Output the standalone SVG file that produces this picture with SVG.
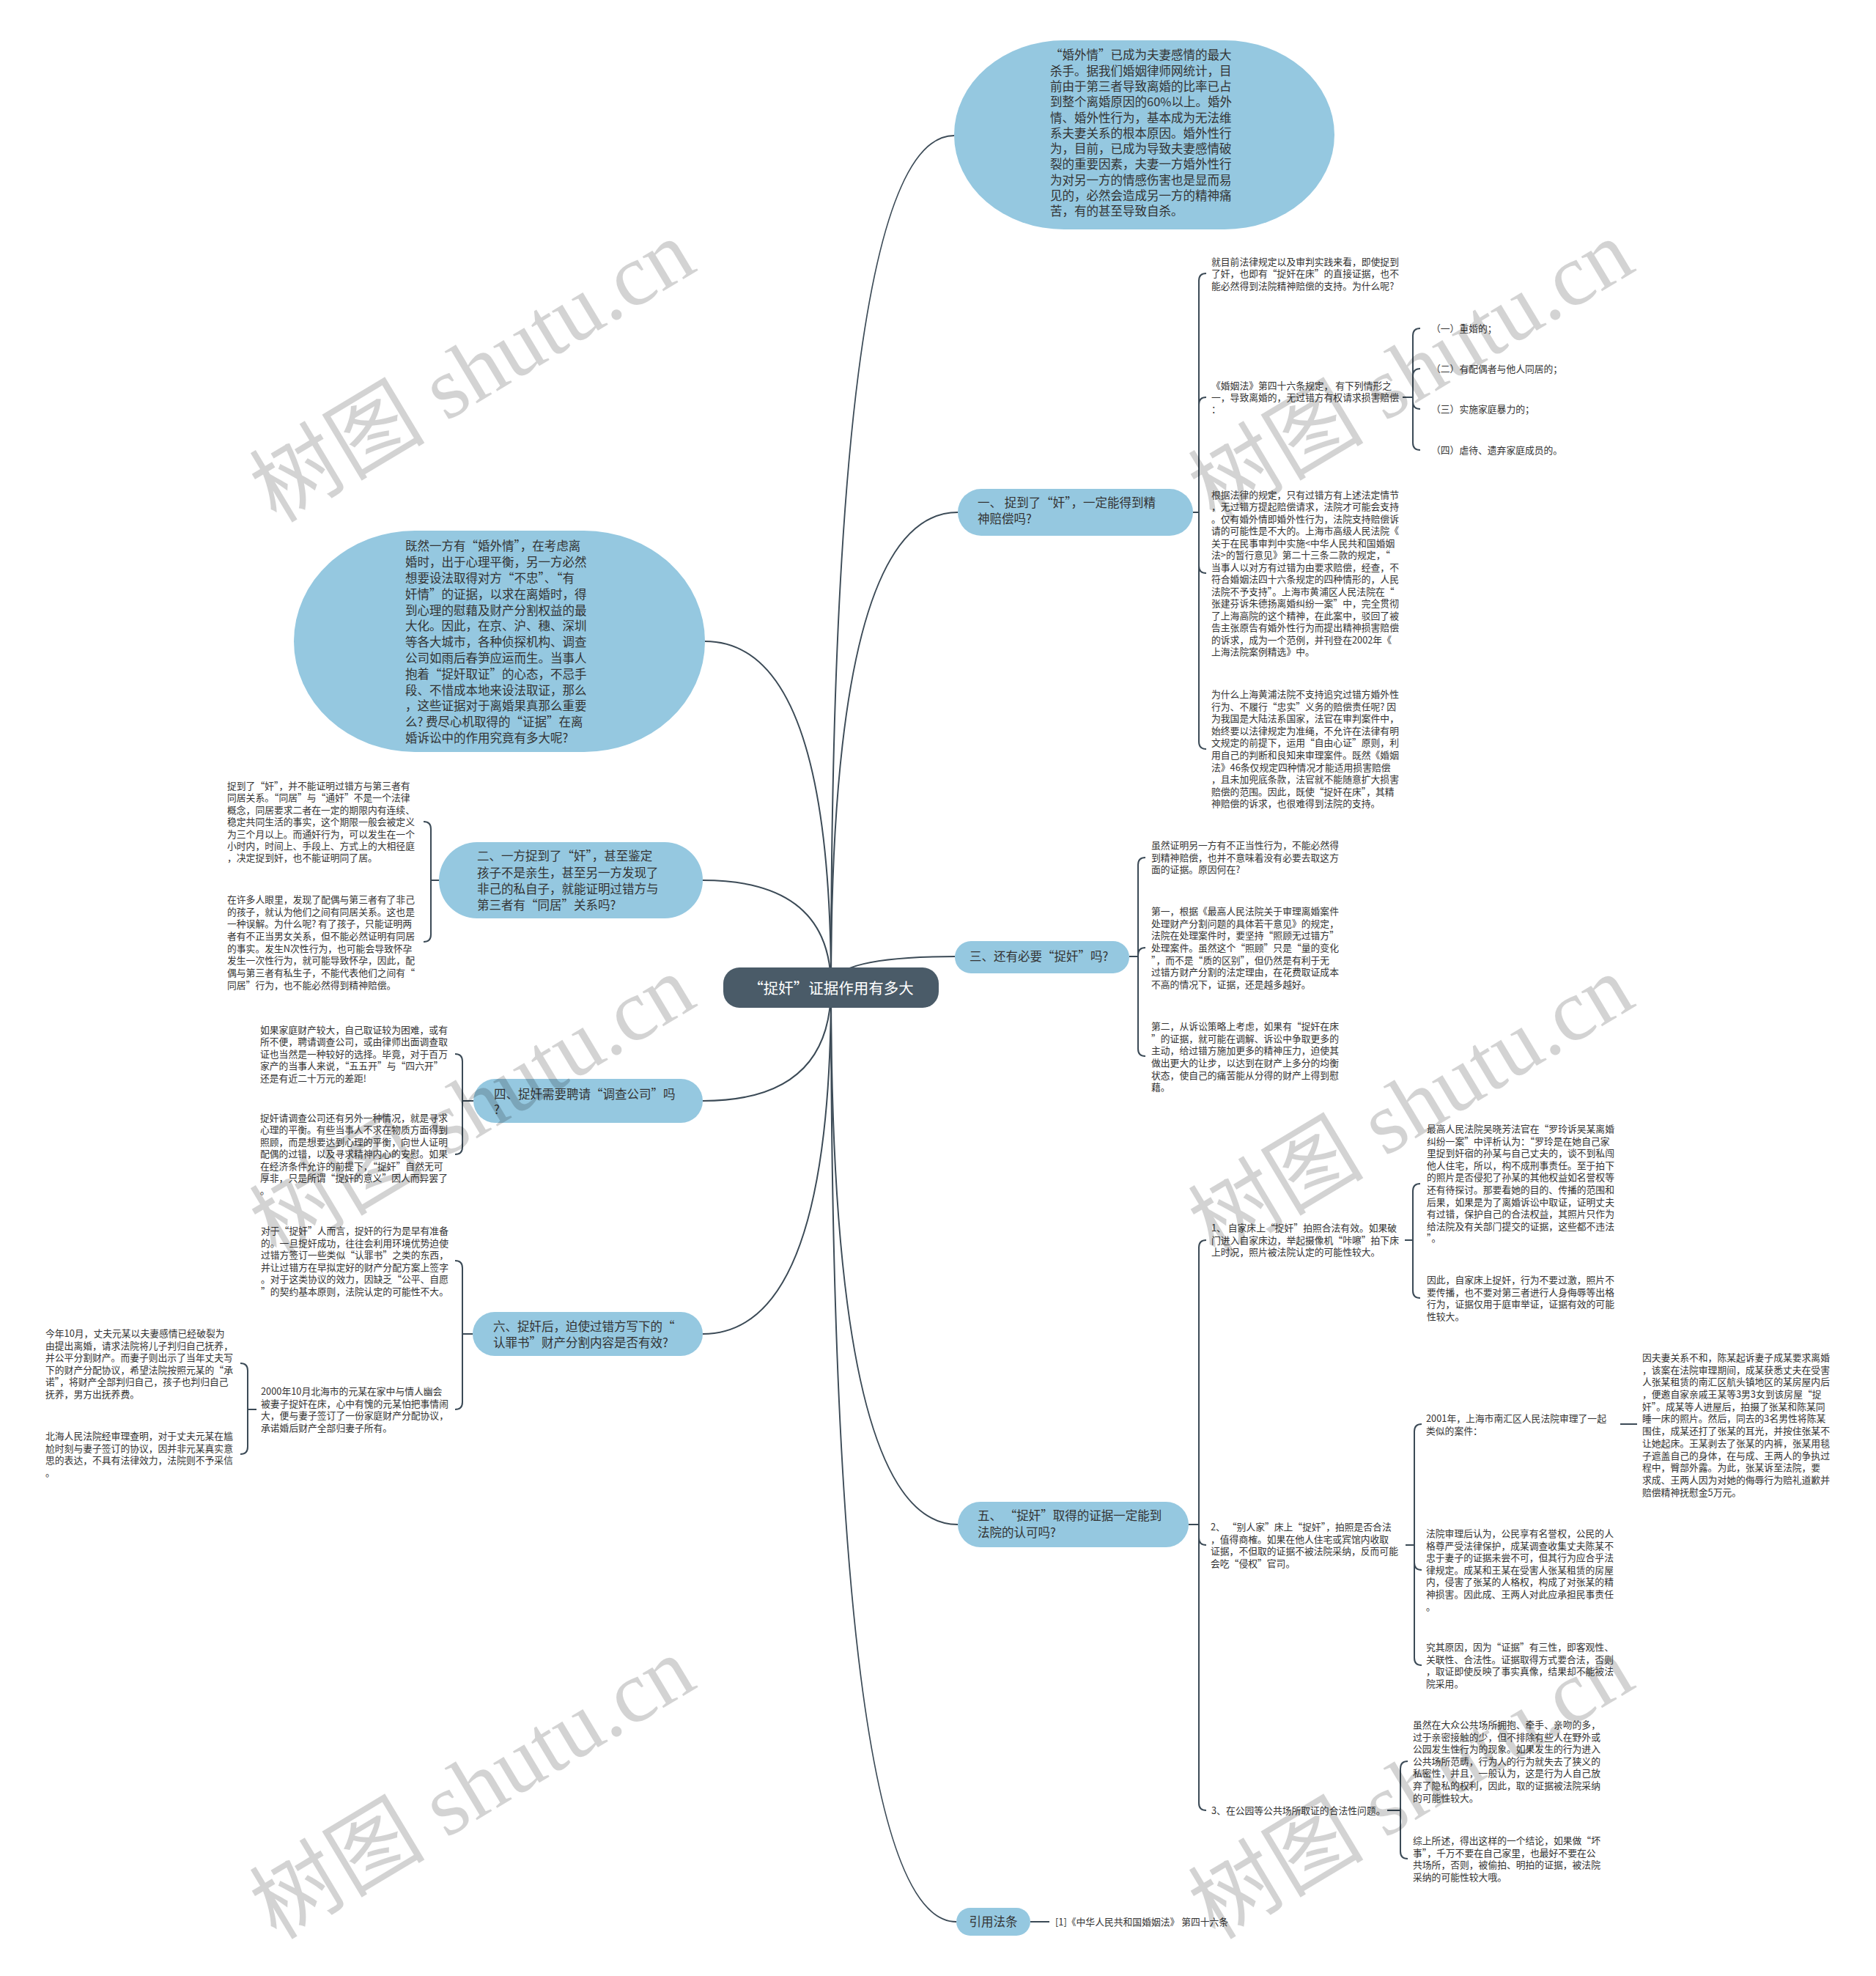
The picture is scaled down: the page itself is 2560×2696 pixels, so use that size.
<svg xmlns="http://www.w3.org/2000/svg" width="2560" height="2696" viewBox="0 0 2560 2696">
<style>
.c{fill:none;stroke:#3b4a56;stroke-width:2}
.n{fill:#95c8e0}
.t{font-family:"Noto Sans CJK SC","Noto Sans",sans-serif;fill:#333;font-size:12.8px}
.l{font-size:16.5px}
.w{font-family:"Liberation Serif","Noto Sans CJK SC",serif;font-size:120px;fill:#000;opacity:0.17}
</style>
<rect width="2560" height="2696" fill="#fff"/>
<g id="connectors">
<path class="c" d="M1134 1347Q1134 185 1302 185"/>
<path class="c" d="M1134 1347Q1134 699 1307 699"/>
<path class="c" d="M1134 1347Q1134 1305 1303 1305"/>
<path class="c" d="M1134 1347Q1134 2080 1307 2080"/>
<path class="c" d="M1134 1347Q1134 2622 1305 2622"/>
<path class="c" d="M1134 1347Q1134 875 962 875"/>
<path class="c" d="M1134 1347Q1134 1201 959 1201"/>
<path class="c" d="M1134 1347Q1134 1502 959 1502"/>
<path class="c" d="M1134 1347Q1134 1820 959 1820"/>
<path class="c" d="M1628 699H1636M1636 699V383Q1636 373 1646 373M1636 699V552Q1636 542 1646 542M1636 699V772Q1636 782 1646 782M1636 699V1012Q1636 1022 1646 1022"/>
<path class="c" d="M1914 542H1928M1928 542V458Q1928 448 1938 448M1928 542V513Q1928 503 1938 503M1928 542V548Q1928 558 1938 558M1928 542V604Q1928 614 1938 614"/>
<path class="c" d="M1541 1305H1553M1553 1305V1180Q1553 1170 1563 1170M1553 1305V1303Q1553 1293 1563 1293M1553 1305V1431Q1553 1441 1563 1441"/>
<path class="c" d="M1622 2080H1636M1636 2080V1702Q1636 1692 1646 1692M1636 2080V2098Q1636 2108 1646 2108M1636 2080V2460Q1636 2470 1646 2470"/>
<path class="c" d="M1917 1692H1928M1928 1692V1625Q1928 1615 1938 1615M1928 1692V1761Q1928 1771 1938 1771"/>
<path class="c" d="M1918 2108H1930M1930 2108V1953Q1930 1943 1940 1943M1930 2108V2132Q1930 2142 1940 2142M1930 2108V2262Q1930 2272 1940 2272"/>
<path class="c" d="M2211 1943H2234"/>
<path class="c" d="M1893 2470H1911M1911 2470V2413Q1911 2403 1921 2403M1911 2470V2526Q1911 2536 1921 2536"/>
<path class="c" d="M1406 2622H1432"/>
<path class="c" d="M599 1201H588M588 1201V1131Q588 1121 578 1121M588 1201V1275Q588 1285 578 1285"/>
<path class="c" d="M646 1502H631M631 1502V1448Q631 1438 621 1438M631 1502V1565Q631 1575 621 1575"/>
<path class="c" d="M645 1820H631M631 1820V1730Q631 1720 621 1720M631 1820V1913Q631 1923 621 1923"/>
<path class="c" d="M350 1923H338M338 1923V1870Q338 1860 328 1860M338 1923V1974Q338 1984 328 1984"/>
</g>
<g id="center">
<rect x="987" y="1320" width="294" height="55" rx="22" fill="#4a5b68"/>
<text x="1134" y="1356" text-anchor="middle" font-family="Noto Sans CJK SC,sans-serif" font-size="20.5" fill="#fff">“捉奸”证据作用有多大</text>
</g>
<g id="intro-top">
<rect class="n" x="1302" y="55" width="519" height="258" rx="150" ry="129"/>
<text class="t l" x="1433" y="81.3"><tspan x="1433">“婚外情”已成为夫妻感情的最大</tspan><tspan x="1433" dy="21.3">杀手。据我们婚姻律师网统计，目</tspan><tspan x="1433" dy="21.3">前由于第三者导致离婚的比率已占</tspan><tspan x="1433" dy="21.3">到整个离婚原因的60%以上。婚外</tspan><tspan x="1433" dy="21.3">情、婚外性行为，基本成为无法维</tspan><tspan x="1433" dy="21.3">系夫妻关系的根本原因。婚外性行</tspan><tspan x="1433" dy="21.3">为，目前，已成为导致夫妻感情破</tspan><tspan x="1433" dy="21.3">裂的重要因素，夫妻一方婚外性行</tspan><tspan x="1433" dy="21.3">为对另一方的情感伤害也是显而易</tspan><tspan x="1433" dy="21.3">见的，必然会造成另一方的精神痛</tspan><tspan x="1433" dy="21.3">苦，有的甚至导致自杀。</tspan></text>
</g>
<g id="intro-left">
<rect class="n" x="401" y="724" width="561" height="302" rx="165" ry="151"/>
<text class="t l" x="553" y="751.3"><tspan x="553">既然一方有“婚外情”，在考虑离</tspan><tspan x="553" dy="21.8">婚时，出于心理平衡，另一方必然</tspan><tspan x="553" dy="21.8">想要设法取得对方“不忠”、“有</tspan><tspan x="553" dy="21.8">奸情”的证据，以求在离婚时，得</tspan><tspan x="553" dy="21.8">到心理的慰藉及财产分割权益的最</tspan><tspan x="553" dy="21.8">大化。因此，在京、沪、穗、深圳</tspan><tspan x="553" dy="21.8">等各大城市，各种侦探机构、调查</tspan><tspan x="553" dy="21.8">公司如雨后春笋应运而生。当事人</tspan><tspan x="553" dy="21.8">抱着“捉奸取证”的心态，不忌手</tspan><tspan x="553" dy="21.8">段、不惜成本地来设法取证，那么</tspan><tspan x="553" dy="21.8">，这些证据对于离婚果真那么重要</tspan><tspan x="553" dy="21.8">么? 费尽心机取得的“证据”在离</tspan><tspan x="553" dy="21.8">婚诉讼中的作用究竟有多大呢?</tspan></text>
</g>
<g id="branch1">
<rect class="n" x="1307" y="667" width="321" height="64" rx="32"/>
<text class="t l" x="1334" y="692"><tspan x="1334">一、 捉到了“奸”，一定能得到精</tspan><tspan x="1334" dy="22">神赔偿吗?</tspan></text>
<text class="t" x="1653" y="361.9"><tspan x="1653">就目前法律规定以及审判实践来看，即使捉到</tspan><tspan x="1653" dy="16.5">了奸，也即有“捉奸在床”的直接证据，也不</tspan><tspan x="1653" dy="16.5">能必然得到法院精神赔偿的支持。为什么呢?</tspan></text>
<text class="t" x="1653" y="530.9"><tspan x="1653">《婚姻法》第四十六条规定， 有下列情形之</tspan><tspan x="1653" dy="16">一，导致离婚的，无过错方有权请求损害赔偿</tspan><tspan x="1653" dy="16">：</tspan></text>
<text class="t" x="1953" y="452.9">（一）重婚的；</text>
<text class="t" x="1953" y="507.9">（二）有配偶者与他人同居的；</text>
<text class="t" x="1953" y="562.9">（三）实施家庭暴力的；</text>
<text class="t" x="1953" y="618.9">（四）虐待、遗弃家庭成员的。</text>
<text class="t" x="1653" y="679.9"><tspan x="1653">根据法律的规定，只有过错方有上述法定情节</tspan><tspan x="1653" dy="16.5">，无过错方提起赔偿请求，法院才可能会支持</tspan><tspan x="1653" dy="16.5">。仅有婚外情即婚外性行为，法院支持赔偿诉</tspan><tspan x="1653" dy="16.5">请的可能性是不大的。上海市高级人民法院《</tspan><tspan x="1653" dy="16.5">关于在民事审判中实施&lt;中华人民共和国婚姻</tspan><tspan x="1653" dy="16.5">法&gt;的暂行意见》第二十三条二款的规定，“</tspan><tspan x="1653" dy="16.5">当事人以对方有过错为由要求赔偿，经查，不</tspan><tspan x="1653" dy="16.5">符合婚姻法四十六条规定的四种情形的，人民</tspan><tspan x="1653" dy="16.5">法院不予支持”。上海市黄浦区人民法院在“</tspan><tspan x="1653" dy="16.5">张建芬诉朱德扬离婚纠纷一案”中，完全贯彻</tspan><tspan x="1653" dy="16.5">了上海高院的这个精神，在此案中，驳回了被</tspan><tspan x="1653" dy="16.5">告主张原告有婚外性行为而提出精神损害赔偿</tspan><tspan x="1653" dy="16.5">的诉求，成为一个范例，并刊登在2002年《</tspan><tspan x="1653" dy="16.5">上海法院案例精选》中。</tspan></text>
<text class="t" x="1653" y="951.9"><tspan x="1653">为什么上海黄浦法院不支持追究过错方婚外性</tspan><tspan x="1653" dy="16.6">行为、不履行“忠实”义务的赔偿责任呢? 因</tspan><tspan x="1653" dy="16.6">为我国是大陆法系国家，法官在审判案件中，</tspan><tspan x="1653" dy="16.6">始终要以法律规定为准绳，不允许在法律有明</tspan><tspan x="1653" dy="16.6">文规定的前提下，运用“自由心证”原则，利</tspan><tspan x="1653" dy="16.6">用自己的判断和良知来审理案件。既然《婚姻</tspan><tspan x="1653" dy="16.6">法》46条仅规定四种情况才能适用损害赔偿</tspan><tspan x="1653" dy="16.6">，且未加兜底条款，法官就不能随意扩大损害</tspan><tspan x="1653" dy="16.6">赔偿的范围。因此，既使“捉奸在床”，其精</tspan><tspan x="1653" dy="16.6">神赔偿的诉求，也很难得到法院的支持。</tspan></text>
</g>
<g id="branch3">
<rect class="n" x="1303" y="1284" width="238" height="44" rx="22"/>
<text class="t l" x="1323" y="1311">三、还有必要“捉奸”吗?</text>
<text class="t" x="1571" y="1157.9"><tspan x="1571">虽然证明另一方有不正当性行为，不能必然得</tspan><tspan x="1571" dy="16.7">到精神赔偿，也并不意味着没有必要去取这方</tspan><tspan x="1571" dy="16.7">面的证据。原因何在?</tspan></text>
<text class="t" x="1571" y="1247.9"><tspan x="1571">第一，根据《最高人民法院关于审理离婚案件</tspan><tspan x="1571" dy="16.7">处理财产分割问题的具体若干意见》的规定，</tspan><tspan x="1571" dy="16.7">法院在处理案件时，要坚持“照顾无过错方”</tspan><tspan x="1571" dy="16.7">处理案件。虽然这个“照顾”只是“量的变化</tspan><tspan x="1571" dy="16.7">”，而不是“质的区别”，但仍然是有利于无</tspan><tspan x="1571" dy="16.7">过错方财产分割的法定理由，在花费取证成本</tspan><tspan x="1571" dy="16.7">不高的情况下，证据，还是越多越好。</tspan></text>
<text class="t" x="1571" y="1404.9"><tspan x="1571">第二，从诉讼策略上考虑，如果有“捉奸在床</tspan><tspan x="1571" dy="16.7">”的证据，就可能在调解、诉讼中争取更多的</tspan><tspan x="1571" dy="16.7">主动，给过错方施加更多的精神压力，迫使其</tspan><tspan x="1571" dy="16.7">做出更大的让步，以达到在财产上多分的均衡</tspan><tspan x="1571" dy="16.7">状态，使自己的痛苦能从分得的财产上得到慰</tspan><tspan x="1571" dy="16.7">藉。</tspan></text>
</g>
<g id="branch5">
<rect class="n" x="1307" y="2049" width="315" height="62" rx="31"/>
<text class="t l" x="1334" y="2074"><tspan x="1334">五、 “捉奸”取得的证据一定能到</tspan><tspan x="1334" dy="23">法院的认可吗?</tspan></text>
<text class="t" x="1653" y="1679.9"><tspan x="1653">1、 自家床上“捉奸”拍照合法有效。如果破</tspan><tspan x="1653" dy="16.6">门进入自家床边，举起摄像机“咔嚓”拍下床</tspan><tspan x="1653" dy="16.6">上时况，照片被法院认定的可能性较大。</tspan></text>
<text class="t" x="1947" y="1544.9"><tspan x="1947">最高人民法院吴晓芳法官在“罗玲诉吴某离婚</tspan><tspan x="1947" dy="16.6">纠纷一案”中评析认为：“罗玲是在她自己家</tspan><tspan x="1947" dy="16.6">里捉到奸宿的孙某与自己丈夫的，谈不到私闯</tspan><tspan x="1947" dy="16.6">他人住宅，所以，构不成刑事责任。至于拍下</tspan><tspan x="1947" dy="16.6">的照片是否侵犯了孙某的其他权益如名誉权等</tspan><tspan x="1947" dy="16.6">还有待探讨。那要看她的目的、传播的范围和</tspan><tspan x="1947" dy="16.6">后果，如果是为了离婚诉讼中取证，证明丈夫</tspan><tspan x="1947" dy="16.6">有过错，保护自己的合法权益，其照片只作为</tspan><tspan x="1947" dy="16.6">给法院及有关部门提交的证据，这些都不违法</tspan><tspan x="1947" dy="16.6">”。</tspan></text>
<text class="t" x="1947" y="1750.9"><tspan x="1947">因此，自家床上捉奸，行为不要过激，照片不</tspan><tspan x="1947" dy="16.6">要传播，也不要对第三者进行人身侮辱等出格</tspan><tspan x="1947" dy="16.6">行为，证据仅用于庭审举证，证据有效的可能</tspan><tspan x="1947" dy="16.6">性较大。</tspan></text>
<text class="t" x="1652" y="2087.9"><tspan x="1652">2、 “别人家”床上“捉奸”，拍照是否合法</tspan><tspan x="1652" dy="16.6">，值得商榷。如果在他人住宅或宾馆内收取</tspan><tspan x="1652" dy="16.6">证据，不但取的证据不被法院采纳，反而可能</tspan><tspan x="1652" dy="16.6">会吃“侵权”官司。</tspan></text>
<text class="t" x="1946" y="1939.9"><tspan x="1946">2001年，上海市南汇区人民法院审理了一起</tspan><tspan x="1946" dy="16.6">类似的案件：</tspan></text>
<text class="t" x="2241" y="1856.9"><tspan x="2241">因夫妻关系不和，陈某起诉妻子成某要求离婚</tspan><tspan x="2241" dy="16.7">，该案在法院审理期间，成某获悉丈夫在受害</tspan><tspan x="2241" dy="16.7">人张某租赁的南汇区航头镇地区的某房屋内后</tspan><tspan x="2241" dy="16.7">，便邀自家亲戚王某等3男3女到该房屋“捉</tspan><tspan x="2241" dy="16.7">奸”。成某等人进屋后，拍摄了张某和陈某同</tspan><tspan x="2241" dy="16.7">睡一床的照片。然后，同去的3名男性将陈某</tspan><tspan x="2241" dy="16.7">围住，成某还打了张某的耳光，并按住张某不</tspan><tspan x="2241" dy="16.7">让她起床。王某剥去了张某的内裤，张某用毯</tspan><tspan x="2241" dy="16.7">子遮盖自己的身体，在与成、王两人的争执过</tspan><tspan x="2241" dy="16.7">程中，臀部外露。为此，张某诉至法院，要</tspan><tspan x="2241" dy="16.7">求成、王两人因为对她的侮辱行为赔礼道歉并</tspan><tspan x="2241" dy="16.7">赔偿精神抚慰金5万元。</tspan></text>
<text class="t" x="1946" y="2096.9"><tspan x="1946">法院审理后认为，公民享有名誉权，公民的人</tspan><tspan x="1946" dy="16.6">格尊严受法律保护，成某调查收集丈夫陈某不</tspan><tspan x="1946" dy="16.6">忠于妻子的证据未尝不可，但其行为应合乎法</tspan><tspan x="1946" dy="16.6">律规定。成某和王某在受害人张某租赁的房屋</tspan><tspan x="1946" dy="16.6">内，侵害了张某的人格权，构成了对张某的精</tspan><tspan x="1946" dy="16.6">神损害。因此成、王两人对此应承担民事责任</tspan><tspan x="1946" dy="16.6">。</tspan></text>
<text class="t" x="1946" y="2251.9"><tspan x="1946">究其原因，因为“证据”有三性，即客观性、</tspan><tspan x="1946" dy="16.6">关联性、合法性。证据取得方式要合法，否则</tspan><tspan x="1946" dy="16.6">，取证即使反映了事实真像，结果却不能被法</tspan><tspan x="1946" dy="16.6">院采用。</tspan></text>
<text class="t" x="1653" y="2474.9">3、在公园等公共场所取证的合法性问题。</text>
<text class="t" x="1928" y="2357.9"><tspan x="1928">虽然在大众公共场所拥抱、牵手、亲吻的多，</tspan><tspan x="1928" dy="16.6">过于亲密接触的少，但不排除有些人在野外或</tspan><tspan x="1928" dy="16.6">公园发生性行为的现象。如果发生的行为进入</tspan><tspan x="1928" dy="16.6">公共场所范畴，行为人的行为就失去了狭义的</tspan><tspan x="1928" dy="16.6">私密性，并且，一般认为，这是行为人自己放</tspan><tspan x="1928" dy="16.6">弃了隐私的权利，因此，取的证据被法院采纳</tspan><tspan x="1928" dy="16.6">的可能性较大。</tspan></text>
<text class="t" x="1928" y="2515.9"><tspan x="1928">综上所述，得出这样的一个结论，如果做“坏</tspan><tspan x="1928" dy="16.6">事”，千万不要在自己家里，也最好不要在公</tspan><tspan x="1928" dy="16.6">共场所，否则，被偷拍、明拍的证据，被法院</tspan><tspan x="1928" dy="16.6">采纳的可能性较大哦。</tspan></text>
</g>
<g id="refs">
<rect class="n" x="1305" y="2603" width="101" height="38" rx="19"/>
<text class="t l" x="1355.5" y="2628.3" text-anchor="middle">引用法条</text>
<text class="t" x="1440" y="2626.9">[1]《中华人民共和国婚姻法》 第四十六条</text>
</g>
<g id="branch2">
<rect class="n" x="599" y="1149" width="360" height="104" rx="52"/>
<text class="t l" x="651" y="1174.3"><tspan x="651">二、一方捉到了“奸”，甚至鉴定</tspan><tspan x="651" dy="22.3">孩子不是亲生，甚至另一方发现了</tspan><tspan x="651" dy="22.3">非己的私自子，就能证明过错方与</tspan><tspan x="651" dy="22.3">第三者有“同居”关系吗?</tspan></text>
<text class="t" x="310" y="1076.9"><tspan x="310">捉到了“奸”，并不能证明过错方与第三者有</tspan><tspan x="310" dy="16.4">同居关系。“同居”与“通奸”不是一个法律</tspan><tspan x="310" dy="16.4">概念，同居要求二者在一定的期限内有连续、</tspan><tspan x="310" dy="16.4">稳定共同生活的事实，这个期限一般会被定义</tspan><tspan x="310" dy="16.4">为三个月以上。而通奸行为，可以发生在一个</tspan><tspan x="310" dy="16.4">小时内，时间上、手段上、方式上的大相径庭</tspan><tspan x="310" dy="16.4">，决定捉到奸，也不能证明同了居。</tspan></text>
<text class="t" x="310" y="1231.9"><tspan x="310">在许多人眼里，发现了配偶与第三者有了非己</tspan><tspan x="310" dy="16.7">的孩子，就认为他们之间有同居关系。这也是</tspan><tspan x="310" dy="16.7">一种误解。为什么呢? 有了孩子，只能证明两</tspan><tspan x="310" dy="16.7">者有不正当男女关系，但不能必然证明有同居</tspan><tspan x="310" dy="16.7">的事实。发生N次性行为，也可能会导致怀孕</tspan><tspan x="310" dy="16.7">发生一次性行为，就可能导致怀孕，因此，配</tspan><tspan x="310" dy="16.7">偶与第三者有私生子，不能代表他们之间有“</tspan><tspan x="310" dy="16.7">同居”行为，也不能必然得到精神赔偿。</tspan></text>
</g>
<g id="branch4">
<rect class="n" x="646" y="1472" width="313" height="60" rx="30"/>
<text class="t l" x="674" y="1499.3"><tspan x="674">四、捉奸需要聘请“调查公司”吗</tspan><tspan x="674" dy="21">?</tspan></text>
<text class="t" x="355" y="1409.9"><tspan x="355">如果家庭财产较大，自己取证较为困难，或有</tspan><tspan x="355" dy="16.5">所不便，聘请调查公司，或由律师出面调查取</tspan><tspan x="355" dy="16.5">证也当然是一种较好的选择。毕竟，对于百万</tspan><tspan x="355" dy="16.5">家产的当事人来说，“五五开”与“四六开”</tspan><tspan x="355" dy="16.5">还是有近二十万元的差距!</tspan></text>
<text class="t" x="355" y="1529.9"><tspan x="355">捉奸请调查公司还有另外一种情况，就是寻求</tspan><tspan x="355" dy="16.5">心理的平衡。有些当事人不求在物质方面得到</tspan><tspan x="355" dy="16.5">照顾，而是想要达到心理的平衡，向世人证明</tspan><tspan x="355" dy="16.5">配偶的过错，以及寻求精神内心的安慰。如果</tspan><tspan x="355" dy="16.5">在经济条件允许的前提下，“捉奸”自然无可</tspan><tspan x="355" dy="16.5">厚非，只是所谓“捉奸的意义”因人而异罢了</tspan><tspan x="355" dy="16.5">。</tspan></text>
</g>
<g id="branch6">
<rect class="n" x="645" y="1790" width="314" height="60" rx="30"/>
<text class="t l" x="673" y="1816.3"><tspan x="673">六、捉奸后，迫使过错方写下的“</tspan><tspan x="673" dy="22">认罪书”财产分割内容是否有效?</tspan></text>
<text class="t" x="356" y="1683.9"><tspan x="356">对于“捉奸”人而言，捉奸的行为是早有准备</tspan><tspan x="356" dy="16.6">的。一旦捉奸成功，往往会利用环境优势迫使</tspan><tspan x="356" dy="16.6">过错方签订一些类似“认罪书”之类的东西，</tspan><tspan x="356" dy="16.6">并让过错方在早拟定好的财产分配方案上签字</tspan><tspan x="356" dy="16.6">。对于这类协议的效力，因缺乏“公平、自愿</tspan><tspan x="356" dy="16.6">”的契约基本原则，法院认定的可能性不大。</tspan></text>
<text class="t" x="356" y="1902.9"><tspan x="356">2000年10月北海市的元某在家中与情人幽会</tspan><tspan x="356" dy="16.6">被妻子捉奸在床，心中有愧的元某怕把事情闹</tspan><tspan x="356" dy="16.6">大，便与妻子签订了一份家庭财产分配协议，</tspan><tspan x="356" dy="16.6">承诺婚后财产全部归妻子所有。</tspan></text>
<text class="t" x="62" y="1823.9"><tspan x="62">今年10月，丈夫元某以夫妻感情已经破裂为</tspan><tspan x="62" dy="16.6">由提出离婚，请求法院将儿子判归自己抚养，</tspan><tspan x="62" dy="16.6">并公平分割财产。而妻子则出示了当年丈夫写</tspan><tspan x="62" dy="16.6">下的财产分配协议，希望法院按照元某的“承</tspan><tspan x="62" dy="16.6">诺”，将财产全部判归自己，孩子也判归自己</tspan><tspan x="62" dy="16.6">抚养，男方出抚养费。</tspan></text>
<text class="t" x="62" y="1963.9"><tspan x="62">北海人民法院经审理查明，对于丈夫元某在尴</tspan><tspan x="62" dy="16.6">尬时刻与妻子签订的协议，因并非元某真实意</tspan><tspan x="62" dy="16.6">思的表达，不具有法律效力，法院则不予采信</tspan><tspan x="62" dy="16.6">。</tspan></text>
</g>
<g id="watermarks">
<text class="w" x="645" y="547" text-anchor="middle" transform="rotate(-31 645 507)">树图 shutu.cn</text>
<text class="w" x="1926" y="547" text-anchor="middle" transform="rotate(-31 1926 507)">树图 shutu.cn</text>
<text class="w" x="645" y="1550" text-anchor="middle" transform="rotate(-31 645 1510)">树图 shutu.cn</text>
<text class="w" x="1926" y="1550" text-anchor="middle" transform="rotate(-31 1926 1510)">树图 shutu.cn</text>
<text class="w" x="645" y="2480" text-anchor="middle" transform="rotate(-31 645 2440)">树图 shutu.cn</text>
<text class="w" x="1926" y="2480" text-anchor="middle" transform="rotate(-31 1926 2440)">树图 shutu.cn</text>
</g>
</svg>
